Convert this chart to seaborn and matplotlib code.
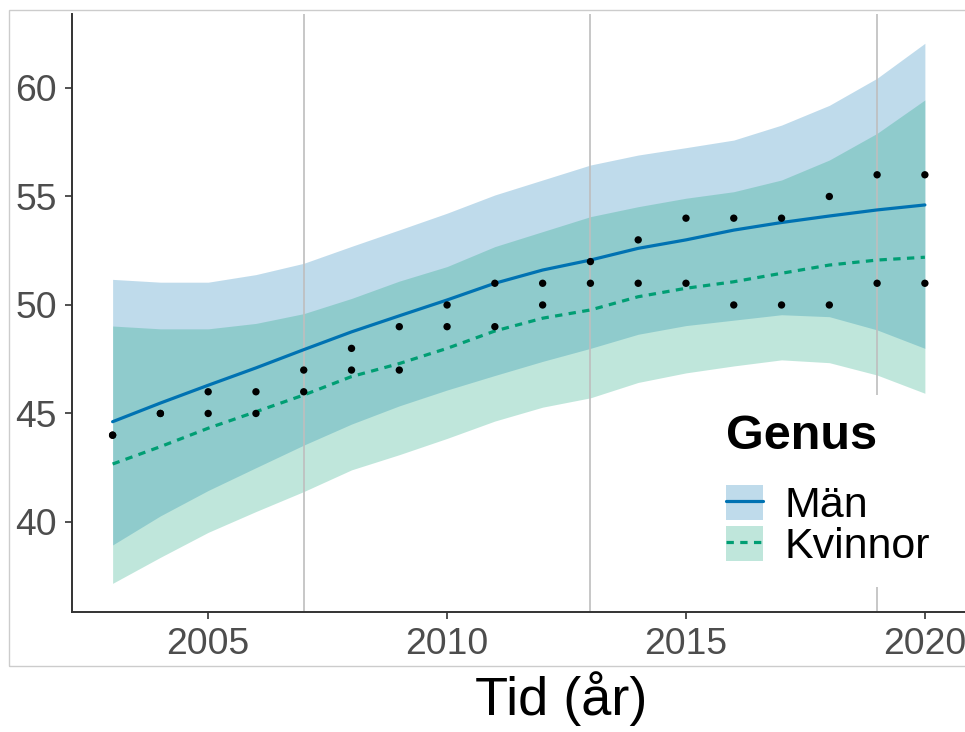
import numpy as np
import pandas as pd
import matplotlib
matplotlib.use("Agg")
import matplotlib.pyplot as plt
from matplotlib.patches import Patch, Rectangle
from matplotlib.lines import Line2D
import seaborn as sns

# ---------------- data ----------------
years = list(range(2003, 2021))

man_points = [44, 45, 46, 46, 47, 48, 49, 50, 51, 51, 52, 53, 54, 54, 54, 55, 56, 56]
kv_points = [44, 45, 45, 45, 46, 47, 47, 49, 49, 50, 51, 51, 51, 50, 50, 50, 51, 51]

man_fit = [44.62, 45.48, 46.30, 47.10, 47.94, 48.76, 49.50, 50.23, 51.00, 51.61,
           52.07, 52.61, 53.00, 53.45, 53.80, 54.10, 54.38, 54.61]
man_lo = [38.94, 40.28, 41.45, 42.50, 43.54, 44.51, 45.35, 46.08, 46.75, 47.40,
          48.00, 48.65, 49.05, 49.30, 49.55, 49.46, 48.85, 48.00]
man_hi = [51.18, 51.05, 51.05, 51.40, 51.92, 52.70, 53.46, 54.23, 55.07, 55.76,
          56.45, 56.91, 57.25, 57.60, 58.29, 59.20, 60.45, 62.06]

kv_fit = [42.67, 43.47, 44.32, 45.08, 45.85, 46.70, 47.30, 48.00, 48.80, 49.39,
          49.77, 50.38, 50.77, 51.07, 51.46, 51.84, 52.07, 52.20]
kv_lo = [37.17, 38.37, 39.52, 40.48, 41.40, 42.40, 43.10, 43.85, 44.65, 45.29,
         45.72, 46.43, 46.87, 47.19, 47.47, 47.34, 46.77, 45.93]
kv_hi = [49.03, 48.90, 48.90, 49.15, 49.60, 50.30, 51.10, 51.77, 52.69, 53.38,
         54.07, 54.53, 54.92, 55.22, 55.76, 56.68, 57.91, 59.45]

vlines = [2007, 2013, 2019]
x_ticks = [2005, 2010, 2015, 2020]
y_ticks = [40, 45, 50, 55, 60]
groups = ["Män", "Kvinnor"]
colors = {"Män": "#0072B2", "Kvinnor": "#009E73"}

df_pts = pd.DataFrame({
    "Tid": years * 2,
    "Värde": man_points + kv_points,
    "Genus": ["Män"] * len(years) + ["Kvinnor"] * len(years),
})
df_fit = pd.DataFrame({
    "Tid": years * 2,
    "fit": man_fit + kv_fit,
    "lo": man_lo + kv_lo,
    "hi": man_hi + kv_hi,
    "Genus": ["Män"] * len(years) + ["Kvinnor"] * len(years),
})

# ---------------- style ----------------
sns.set_theme(style="white")
plt.rcParams["font.family"] = ["Liberation Sans", "DejaVu Sans"]
plt.rcParams["text.color"] = "black"

W, H = 965, 732
fig = plt.figure(figsize=(W / 100, H / 100), dpi=100)
ax = fig.add_axes([72 / W, 1 - 612 / H, (965.5 - 72) / W, (612 - 14) / H])

# outer light grey frame
fig.patches.append(Rectangle((9 / W, 1 - 666 / H), 1.2, (666 - 10) / H,
                             transform=fig.transFigure, fill=False,
                             edgecolor="#cccccc", linewidth=1.0, zorder=0))

# ribbons
for g in groups:
    sub = df_fit[df_fit["Genus"] == g]
    ax.fill_between(sub["Tid"], sub["lo"], sub["hi"], color=colors[g],
                    alpha=0.25, linewidth=0, zorder=1)

for v in vlines:
    ax.axvline(v, color="#bebebe", linewidth=1.2, zorder=2)

DASH = (2.3, 2.0)
LW = 2.3
sns.lineplot(data=df_fit, x="Tid", y="fit", hue="Genus", style="Genus",
             palette=colors, dashes={"Män": "", "Kvinnor": DASH},
             linewidth=LW, legend=False, ax=ax, zorder=3)

sns.scatterplot(data=df_pts, x="Tid", y="Värde", color="black", s=28,
                edgecolor="none", legend=False, ax=ax, zorder=4)

ax.set_xlim(2002.15, 2020.85)
ax.set_ylim(35.85, 63.41)
ax.set_xticks(x_ticks)
ax.set_yticks(y_ticks)
ax.set_xticklabels([str(t) for t in x_ticks])
ax.set_yticklabels([str(t) for t in y_ticks])
ax.set_xlabel("")
ax.set_ylabel("")
for s in ["top", "right"]:
    ax.spines[s].set_visible(False)
for s in ["left", "bottom"]:
    ax.spines[s].set_color("#333333")
    ax.spines[s].set_linewidth(1.4)
ax.tick_params(axis="both", which="major", direction="out", length=5,
               width=1.2, color="#333333", labelsize=26.8,
               labelcolor="#4d4d4d", pad=6, left=True, bottom=True)

fig.text(561 / W, 1 - 715 / H, "Tid (år)", ha="center", va="baseline",
         fontsize=39, color="black")

# legend
handles = []
for g in groups:
    ls = "-" if g == "Män" else (0, DASH)
    handles.append((Patch(facecolor=colors[g], alpha=0.25, edgecolor="none"),
                    Line2D([], [], color=colors[g], linewidth=LW, linestyle=ls)))
leg = ax.legend(handles, groups, title="Genus", loc="upper left",
                bbox_to_anchor=(707 / W, 1 - 395 / H),
                bbox_transform=fig.transFigure, fontsize=31,
                title_fontproperties={"weight": "bold", "size": 35},
                handlelength=0.86, handleheight=0.86, handletextpad=0.5,
                labelspacing=0.0, borderpad=0.45, borderaxespad=0,
                frameon=True, fancybox=False, alignment="left",
                labelcolor="black")
leg.get_title().set_color("black")
leg._legend_box.sep = 18.5
leg.get_frame().set_facecolor("white")
leg.get_frame().set_edgecolor("none")
leg.get_frame().set_alpha(1)
leg.set_zorder(6)

fig.savefig("out.png", dpi=100)
